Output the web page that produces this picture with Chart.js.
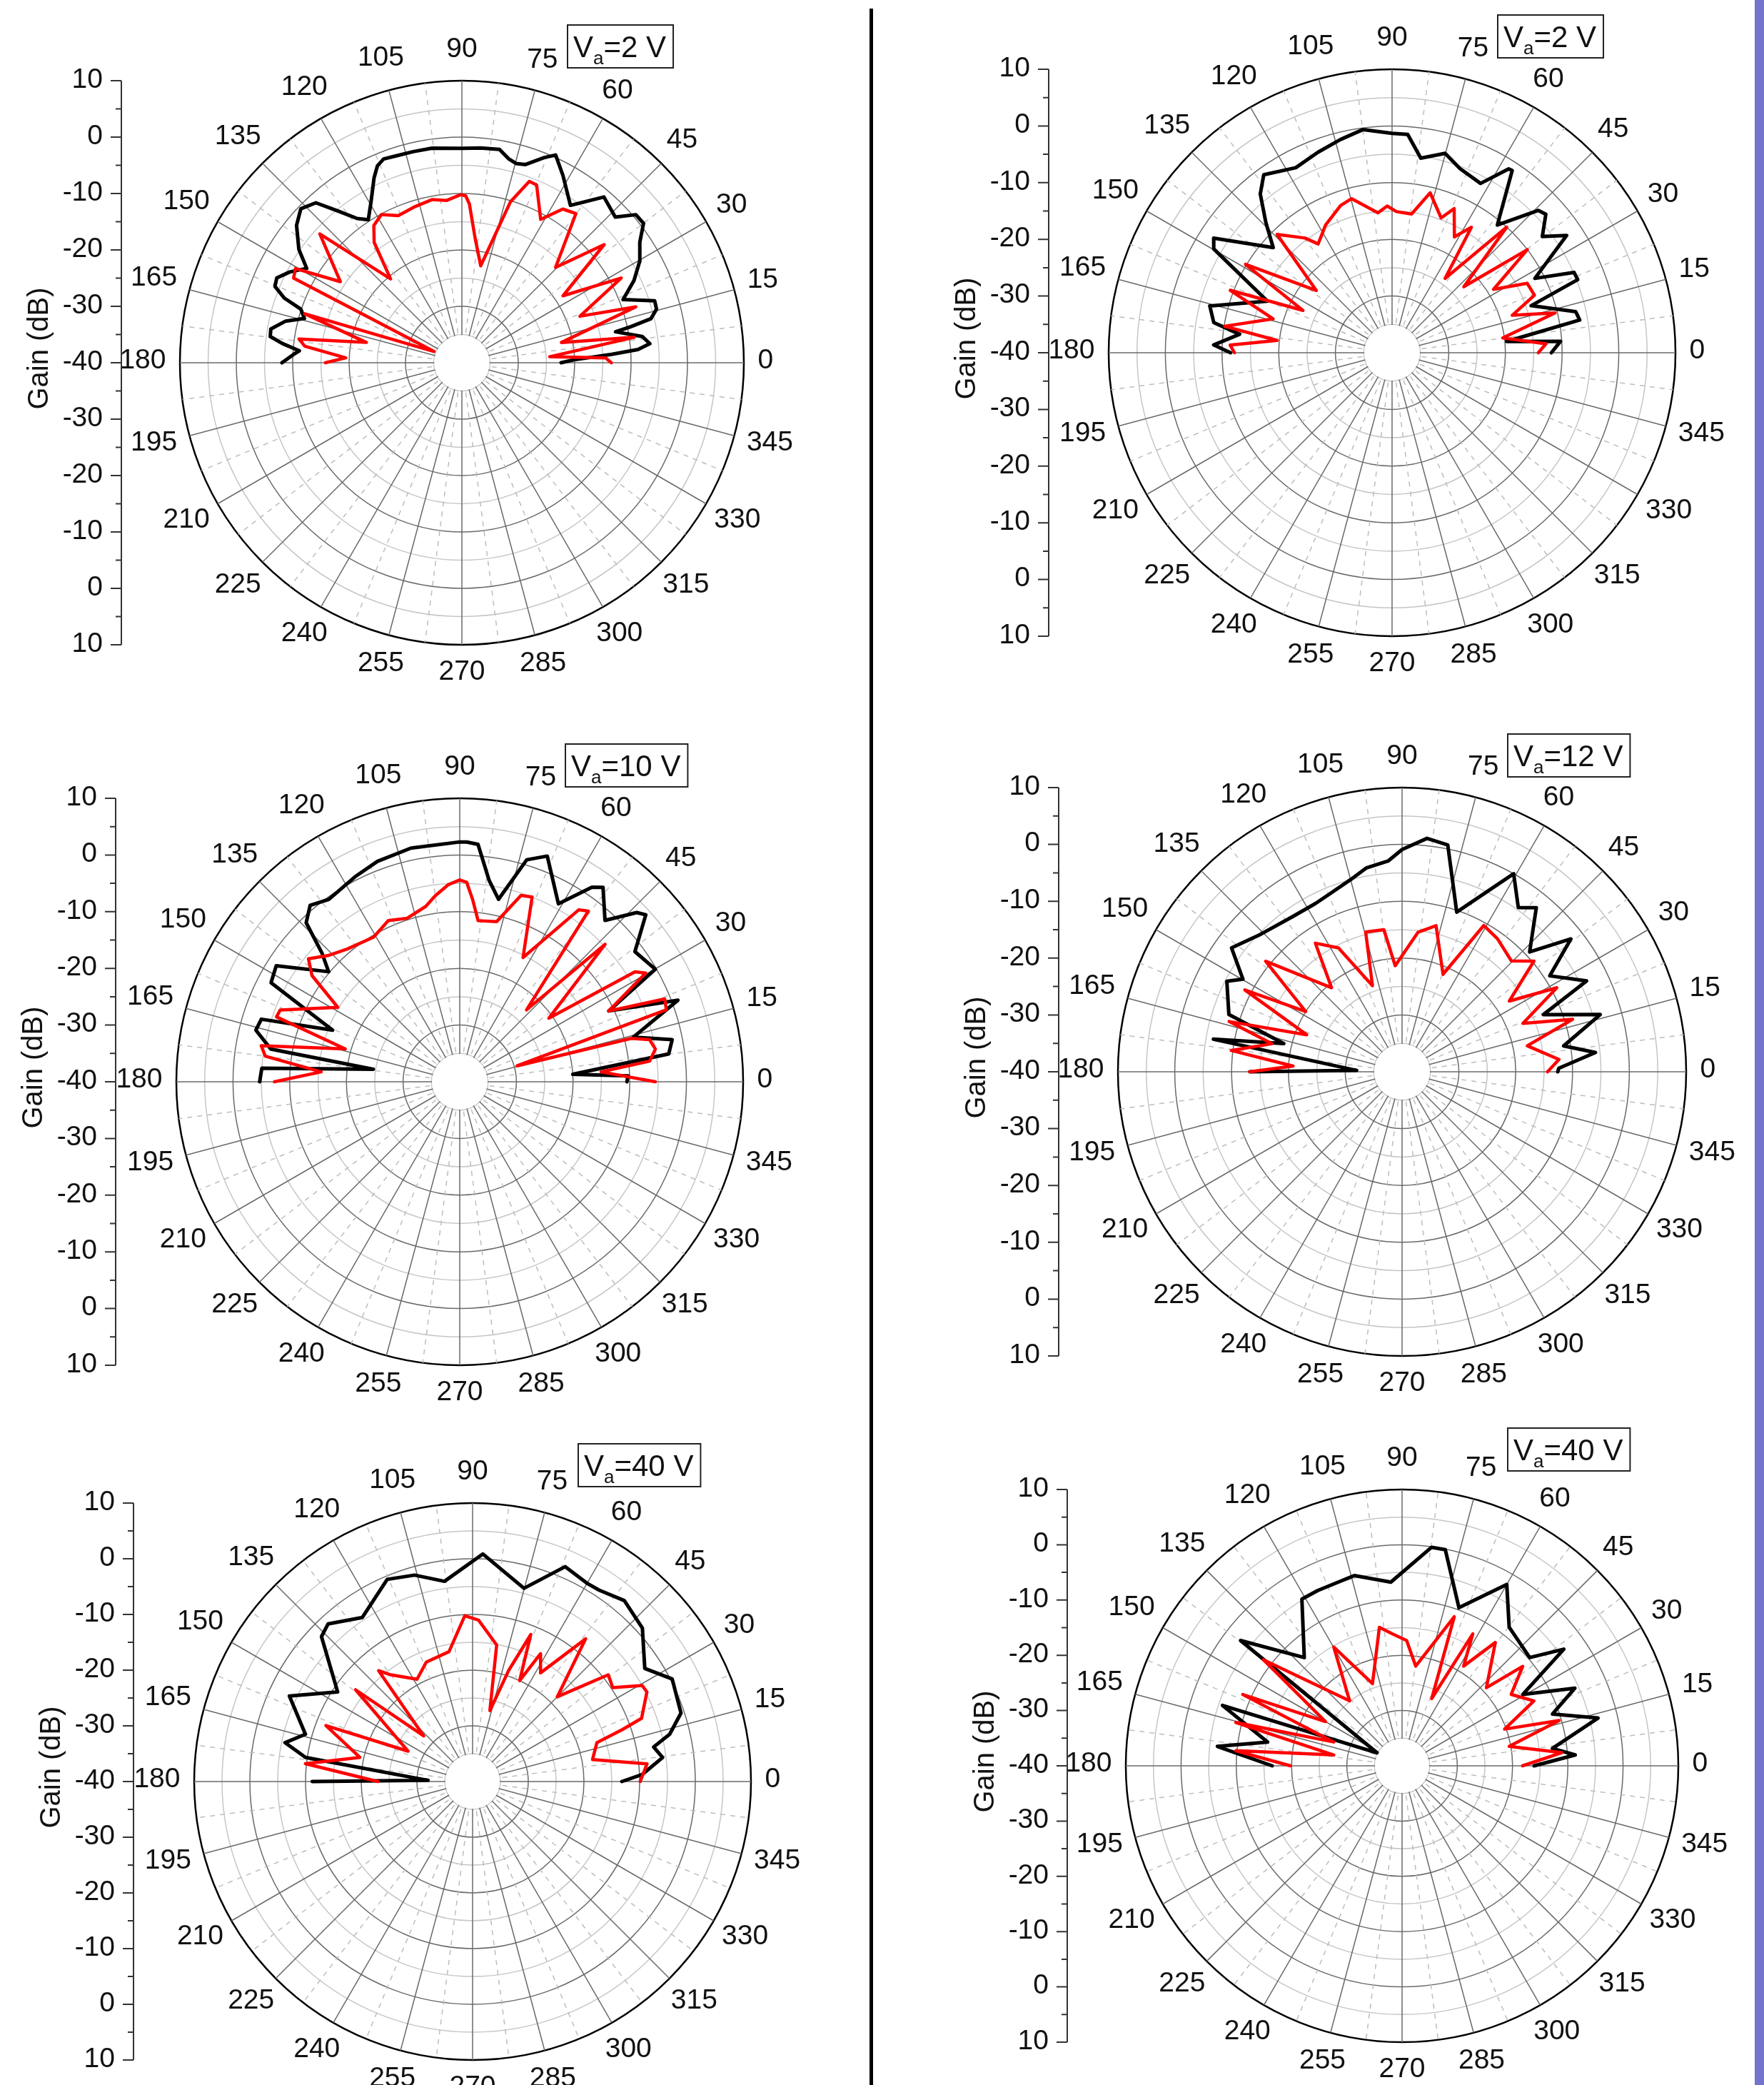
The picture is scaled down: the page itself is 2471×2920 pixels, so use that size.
<!DOCTYPE html>
<html>
<head>
<meta charset="utf-8">
<style>
  html, body { margin: 0; padding: 0; background: #fff; }
  body { position: relative; width: 2471px; height: 2920px; overflow: hidden; }
  canvas { position: absolute; }
  #divider { position: absolute; left: 1218px; top: 12px; width: 5px; height: 2908px; background: #000; }
  #edge { position: absolute; left: 2458px; top: 0; width: 13px; height: 2920px; background: #7474cc; }
</style>
<script src="https://cdn.jsdelivr.net/npm/chart.js@4.4.1/dist/chart.umd.min.js"></script>
</head>
<body>
<div id="divider"></div>
<div id="edge"></div>
<script>
/* globals Chart:false */
'use strict'

// polar axis
const angleTicks = [0, 15, 30, 45, 60, 75, 90, 105, 120, 135, 150, 165, 180, 195, 210, 225, 240, 255, 270, 285, 300, 315, 330, 345]
const gainTicks = [10, 0, -10, -20, -30, -40, -30, -20, -10, 0, 10]
const gainMin = -40
const gainMax = 10
const voltages = ['2', '2', '10', '12', '40', '40']

// [angle (deg), gain (dB)]
const p1Black = [[0, -22.4], [1.5, -20.1], [3.2, -13.4], [4.3, -8.7], [5.8, -6.5], [8.3, -7.7], [11.4, -12.2], [12, -9.5], [13.1, -5.6], [15.4, -4.2], [17.8, -4.1], [21.4, -9.3], [25.5, -6.2], [29.7, -3.7], [34.1, -1.9], [37.5, 0.6], [40.4, 0.5], [43.5, -2.5], [49.4, -1.3], [55.4, -6.1], [61.6, -2.3], [65.7, 0.4], [68.1, -0.8], [72.2, -3.1], [74.8, -3.4], [77.1, -2.9], [80, -1.6], [85, -1.8], [90, -2.0], [97.9, -1.6], [103, -1.6], [108, -1.5], [111, -1.3], [113.2, -2.0], [115.4, -3.7], [119.4, -7.2], [123.2, -9.7], [126, -8.4], [129.2, -5.3], [132.4, -1.6], [136.3, -0.5], [140.3, -1.9], [145.2, -4.8], [148.7, -7.8], [152.2, -5.5], [155.4, -3.9], [157.8, -4.2], [160, -6.5], [161.6, -9.9], [164.3, -11.0], [166.7, -7.9], [170, -5.6], [172.2, -5.7], [173.9, -8.0], [175.8, -11.1], [177.2, -10.1], [180, -8.1]]
const p1Red = [[0, -13.5], [1.9, -14.5], [3.9, -24.4], [8.4, -9.1], [11.5, -22.0], [17.8, -7.6], [21.5, -17.5], [28, -8.0], [33.5, -18.5], [39.7, -7.2], [45.5, -16.3], [52.6, -6.7], [56.7, -7.4], [61.2, -11.0], [67.2, -5.8], [69.6, -5.7], [73.2, -10.2], [79, -22.5], [84, -17.7], [87.3, -11.8], [88.7, -10.4], [90.4, -10.2], [95.3, -11.1], [100.4, -10.6], [106.7, -11.1], [113.4, -11.6], [118.5, -10.1], [122.7, -11.1], [126.1, -13.6], [130.4, -20.5], [137.8, -6.0], [146.3, -14.1], [150.5, -6.1], [153.3, -6.6], [158, -34.7], [162.7, -10.8], [168, -22.7], [171.7, -10.8], [174, -12], [177.6, -19.4], [180, -15.8]]

const p2Black = [[0, -11.9], [3.9, -10.2], [5.6, -19.7], [9.9, -6.4], [12.6, -6.8], [18.7, -14.1], [21.5, -4.8], [23.8, -4.9], [27.5, -11.6], [33.9, -2.9], [37.7, -6.5], [42, -3.5], [44.2, -4.0], [50.5, -10.8], [56.6, -1.5], [57.6, -1.6], [62.4, -6.3], [69.7, -5.4], [75.1, -3.6], [81.6, -5.3], [85.9, -1.4], [90, -1.3], [97.4, -0.3], [103.6, -1.3], [110.3, -2.3], [117.5, -3.2], [125.8, -1.3], [129.7, -3.6], [134.1, -8.0], [138.5, -12.0], [147.3, -2.6], [149.8, -3.6], [157.5, -16.2], [165.6, -6.8], [170.4, -8.1], [173.1, -12.9], [177.5, -8.5], [180, -11.5]]
const p2Red = [[0, -14.2], [3.3, -12.8], [7.6, -20.3], [13.7, -10.4], [17.3, -17.8], [22, -12.9], [27.2, -13.2], [32, -18.9], [37.3, -10.0], [42.6, -22.8], [47.6, -10.0], [54.5, -23.9], [57.7, -13.8], [61.7, -16.8], [66.7, -12.3], [70, -14.7], [76.6, -11.0], [82, -15.3], [88.2, -15.1], [91.9, -14.1], [95.8, -15.2], [104.7, -11.9], [109.3, -12.5], [117.5, -14.6], [124.2, -16.8], [127.2, -14.6], [134.2, -10.9], [140.6, -22.7], [148.9, -9.8], [154.6, -22.6], [158.9, -9.4], [164.1, -18.2], [171, -10.1], [173.9, -19.6], [177.3, -11.4], [180, -12.2]]

const p3Black = [[0, -10.5], [2, -10.3], [3.8, -20], [7.6, -2.8], [11.2, -1.8], [14.4, -8.4], [20.5, 1.1], [25.4, -10.9], [29.9, -0.2], [36.6, -1.5], [41.9, 4.1], [43.7, 3.2], [48, -1.7], [53.6, 2.6], [55.8, 1.5], [61, -4.1], [68.8, 2.7], [73.2, 0.9], [78, -7.1], [81.7, -4.1], [85.6, 2.0], [88.3, 2.3], [90, 2.3], [101.8, 2.1], [110.5, 1.5], [117.1, 0.6], [125.7, -0.4], [130.3, 0.8], [134, -1.0], [137, -6.8], [140, -9.8], [147.7, -1.7], [152.3, -2.4], [157.9, -15.8], [162.5, -3.3], [165.8, -2.9], [170.2, -6.2], [171.8, -24.6], [176.1, -5.0], [180, -4.7]]
const p3Red = [[0, -5.5], [4, -15], [6.2, -6.3], [9.5, -5.0], [12.5, -5.7], [14.2, -8.8], [15.5, -29.5], [19.2, -1.4], [22, -1.0], [25.4, -10.9], [30.3, -2.0], [32.1, -3.5], [35.5, -20.7], [43.4, -4.7], [47.1, -22.7], [53, -2.3], [55.3, -3.1], [63, -15.4], [68.6, -5.0], [71.8, -5.4], [77, -11.0], [83.5, -11.4], [86, -7.7], [88, -4.8], [90, -4.4], [93.4, -5.2], [97.5, -6.9], [101, -8.5], [107.8, -9.7], [113.9, -8.9], [120.8, -10.3], [130.3, -9.3], [136, -7.9], [140.9, -5.6], [144.3, -7.9], [148.6, -14.8], [158.2, -5.9], [160.5, -5.7], [164, -19.0], [169.7, -4.4], [172.5, -5.4], [175.9, -15.5], [180, -7.3]]

const p4Black = [[0, -12.6], [1.3, -12.4], [5.7, -5.8], [9.1, -11.2], [16.1, -3.7], [22, -13.2], [26.2, -3.8], [33, -9], [38.2, -2.2], [43.2, -9.2], [50.7, -2.7], [54.7, -4.6], [60.6, 0], [71.1, -10.3], [78.6, 0.7], [83.9, 1.3], [90, -0.9], [93.7, -2.8], [100, -3.6], [105, -5.0], [112, -6.2], [117.2, -6.7], [125, -6.6], [135.8, -5.3], [144, -2.9], [149.8, -7.6], [152.7, -5.3], [161.7, -7.9], [166.6, -18.6], [170.2, -6.3], [178.3, -32], [180, -13.2]]
const p4Red = [[0, -14.4], [4.5, -12.3], [11.7, -17.5], [17.1, -8.6], [21.8, -17.1], [28.5, -9.0], [33.4, -17.4], [40, -9.7], [45.4, -12.6], [54.3, -11.2], [60.8, -10.5], [67.2, -21.4], [76.9, -13.6], [83.5, -15.3], [93.7, -21.3], [97.3, -14.8], [104.6, -14.6], [109, -24], [117.2, -15.5], [124, -12.7], [130, -20.7], [141, -9.1], [148, -20], [152.5, -8.8], [158.8, -22], [163.8, -8.3], [167.8, -16.6], [172.9, -9.7], [177, -20.8], [180, -13.2]]

const p5Black = [[0, -13.2], [2.4, -9.5], [7.2, -5.6], [10.8, -6.9], [13.5, -3.6], [18.2, -0.6], [27.2, 0.3], [33.3, -3.0], [42.1, 1.1], [50, 2.4], [56.5, 1.2], [59.8, 1.1], [66.7, 2.0], [75.1, -4.1], [87.4, 0.9], [98, -3.7], [105.7, -1.5], [112.9, -0.6], [123.9, -4.5], [132.5, -1.6], [136.2, -2.4], [146.4, -10.9], [155, -3.7], [164.2, -8.8], [168.3, -5.6], [171.8, -9.7], [178.5, -32], [180, -11.2]]
const p5Red = [[0, -9.9], [5.8, -8.5], [10.4, -18.1], [17.4, -16.6], [19.1, -11.6], [20.5, -7.6], [27.2, -4.8], [29.5, -5.0], [33.8, -9.7], [38.2, -9.0], [45, -18.5], [51.6, -7.3], [58, -17], [62, -14], [65, -20], [68.4, -11.6], [72, -19], [76.3, -26.9], [80, -15.1], [87.9, -11], [92.7, -10.2], [100.3, -16.3], [111.2, -17], [118.5, -19.1], [127.8, -15.7], [130.3, -13.9], [137, -28], [141.9, -13.3], [154.8, -27.2], [159.1, -11.8], [167.9, -19.3], [173.9, -9.8], [180, -23]]

const p6Black = [[0, -16.1], [3.6, -8.6], [6.6, -12.6], [13.7, -3.5], [19, -11.2], [24.2, -5.7], [30.6, -14.6], [35.8, -3.9], [40.3, -9.7], [52.3, -8.3], [60, -2.1], [70.2, -9.6], [78.7, -0.1], [82.3, -0.1], [93.5, -6.7], [104.1, -4.5], [115.7, -4.8], [121, -4.8], [132.1, -13.6], [142.2, -3.0], [152.5, -34.9], [161.4, -5.7], [170, -15.3], [174, -6.4], [180, -16.5]]
const p6Red = [[0, -18.2], [4.7, -11], [10.3, -20.3], [16.1, -10.4], [19.7, -20.3], [26.2, -13.4], [33.2, -16.4], [39.5, -11.7], [42.8, -19.2], [52.9, -12], [58.3, -18.8], [61.8, -12.9], [66.2, -26.7], [70.7, -11.4], [82.2, -21.8], [87.9, -17.3], [94, -16.1], [99.3, -14.6], [109.8, -24.2], [119.9, -15.2], [128.9, -24.9], [142.6, -8.4], [150, -24], [155.9, -8.4], [160.8, -26.9], [165.4, -8.9], [171, -27.5], [174.8, -9.8], [180, -19.8]]

// page layout of the six polar plots (full-size pixels)
const panels = [
  { cx: 647, cy: 508, r: 395, axisX: 170, col: 0, black: p1Black, red: p1Red },
  { cx: 1950, cy: 494, r: 397, axisX: 1469, col: 1, black: p2Black, red: p2Red },
  { cx: 644, cy: 1515, r: 397, axisX: 162, col: 0, black: p3Black, red: p3Red },
  { cx: 1964, cy: 1501, r: 398, axisX: 1483, col: 1, black: p4Black, red: p4Red },
  { cx: 662, cy: 2495, r: 390, axisX: 187, col: 0, black: p5Black, red: p5Red },
  { cx: 1964, cy: 2473, r: 387, axisX: 1495, col: 1, black: p6Black, red: p6Red }
]

const FONT = '"Liberation Sans", Arial, sans-serif'
const SPOKES = 48 // every 7.5 degrees
const spokeLabels = Array.from({ length: SPOKES }, () => '')
const span = gainMax - gainMin

const toPoints = series => series.map(([deg, db]) => {
  const rad = deg * Math.PI / 180
  const rho = db - gainMin
  return { x: rho * Math.cos(rad), y: rho * Math.sin(rad) }
})

const spokeIndex = deg => (((90 - deg) / (360 / SPOKES)) % SPOKES + SPOKES) % SPOKES

const polarDecor = {
  id: 'polarDecor',
  beforeDatasetsDraw (chart) {
    const s = chart.scales.r
    const ctx = chart.ctx
    ctx.save()
    ctx.fillStyle = '#fff'
    ctx.beginPath()
    ctx.arc(s.xCenter, s.yCenter, s.getDistanceFromCenterForValue(-35) - 0.8, 0, Math.PI * 2)
    ctx.fill()
    ctx.restore()
  },
  afterDraw (chart, args, opts) {
    const s = chart.scales.r
    const ctx = chart.ctx
    const outer = s.getDistanceFromCenterForValue(gainMax)
    ctx.save()
    ctx.fillStyle = '#111'

    // angle labels
    ctx.font = '39px ' + FONT
    ctx.textAlign = 'center'
    ctx.textBaseline = 'middle'
    angleTicks.forEach(deg => {
      const text = String(deg)
      const w = ctx.measureText(text).width
      const rad = deg * Math.PI / 180
      const dist = outer + 41 + Math.abs(Math.cos(rad)) * (w - 43) / 2
      const p = s.getPointPosition(spokeIndex(deg), dist)
      ctx.fillText(text, p.x, p.y - 3)
    })

    // gain axis on the left
    const x = opts.axisX - chart.canvas.offsetLeft
    const half = (gainTicks.length - 1) / 2
    const ys = gainTicks.map((v, i) => {
      const d = s.getDistanceFromCenterForValue(v)
      return i <= half ? s.yCenter - d : s.yCenter + d
    })
    ctx.strokeStyle = '#333'
    ctx.lineWidth = 2
    ctx.beginPath()
    ctx.moveTo(x, ys[0])
    ctx.lineTo(x, ys[ys.length - 1])
    ys.forEach((y, i) => {
      ctx.moveTo(x, y)
      ctx.lineTo(x - 15, y)
      if (i < ys.length - 1) {
        const ym = (y + ys[i + 1]) / 2
        ctx.moveTo(x, ym)
        ctx.lineTo(x - 8, ym)
      }
    })
    ctx.stroke()
    ctx.textAlign = 'right'
    gainTicks.forEach((v, i) => ctx.fillText(String(v), x - 26, ys[i] - 1))

    ctx.save()
    ctx.translate(x - 114, s.yCenter - 20)
    ctx.rotate(-Math.PI / 2)
    ctx.textAlign = 'center'
    ctx.font = '40px ' + FONT
    ctx.fillText('Gain (dB)', 0, 0)
    ctx.restore()

    // voltage box
    ctx.textAlign = 'left'
    ctx.textBaseline = 'alphabetic'
    const big = '42px ' + FONT
    const small = '26px ' + FONT
    const rest = '=' + opts.volt + ' V'
    ctx.font = big
    const wV = ctx.measureText('V').width
    const wRest = ctx.measureText(rest).width
    ctx.font = small
    const wa = ctx.measureText('a').width
    const bx = s.xCenter + 148
    const by = s.yCenter - 473
    const bw = wV + wa + wRest + 18
    ctx.strokeStyle = '#222'
    ctx.lineWidth = 2
    ctx.strokeRect(bx, by, bw, 60)
    ctx.font = big
    ctx.fillText('V', bx + 8, by + 45)
    ctx.font = small
    ctx.fillText('a', bx + 8 + wV, by + 55)
    ctx.font = big
    ctx.fillText(rest, bx + 8 + wV + wa, by + 45)
    ctx.restore()
  }
}

panels.forEach((p, k) => {
  const left = p.col === 0 ? 0 : 1225
  const width = p.col === 0 ? 1215 : 1233
  const pad = 120
  const top = p.cy - p.r - pad
  const height = 2 * p.r + 2 * pad
  const canvas = document.createElement('canvas')
  canvas.width = width
  canvas.height = height
  canvas.style.left = left + 'px'
  canvas.style.top = top + 'px'
  document.body.appendChild(canvas)

  // eslint-disable-next-line no-new
  new Chart(canvas, {
    type: 'scatter',
    data: {
      labels: spokeLabels,
      datasets: [
        { data: toPoints(p.red), borderColor: '#ff0000', borderWidth: 4.5 },
        { data: toPoints(p.black), borderColor: '#000000', borderWidth: 5 }
      ].map(d => Object.assign(d, { showLine: true, pointRadius: 0, tension: 0, fill: false, borderJoinStyle: 'round', borderCapStyle: 'round' }))
    },
    options: {
      responsive: false,
      animation: false,
      events: [],
      layout: {
        padding: {
          left: p.cx - p.r - left,
          right: width - (p.cx + p.r - left),
          top: pad,
          bottom: pad
        }
      },
      plugins: {
        legend: { display: false },
        tooltip: { enabled: false },
        polarDecor: { axisX: p.axisX, volt: voltages[k] }
      },
      scales: {
        x: { type: 'linear', min: -span, max: span, display: false },
        y: { type: 'linear', min: -span, max: span, display: false },
        r: {
          type: 'radialLinear',
          min: gainMin,
          max: gainMax,
          startAngle: 0,
          ticks: { display: false, stepSize: 5 },
          pointLabels: { display: false },
          grid: {
            circular: true,
            color: c => c.tick.value === gainMax ? '#000' : (c.tick.value % 10 === 0 ? '#6a6a6a' : '#c6c6c6'),
            lineWidth: c => c.tick.value === gainMax ? 2.5 : 1.5
          },
          angleLines: {
            color: c => c.index % 2 === 0 ? '#6a6a6a' : '#bdbdbd',
            lineWidth: 1.5,
            borderDash: c => c.index % 2 === 0 ? [] : [7, 7]
          }
        }
      }
    },
    plugins: [polarDecor]
  })
})
</script>
</body>
</html>
